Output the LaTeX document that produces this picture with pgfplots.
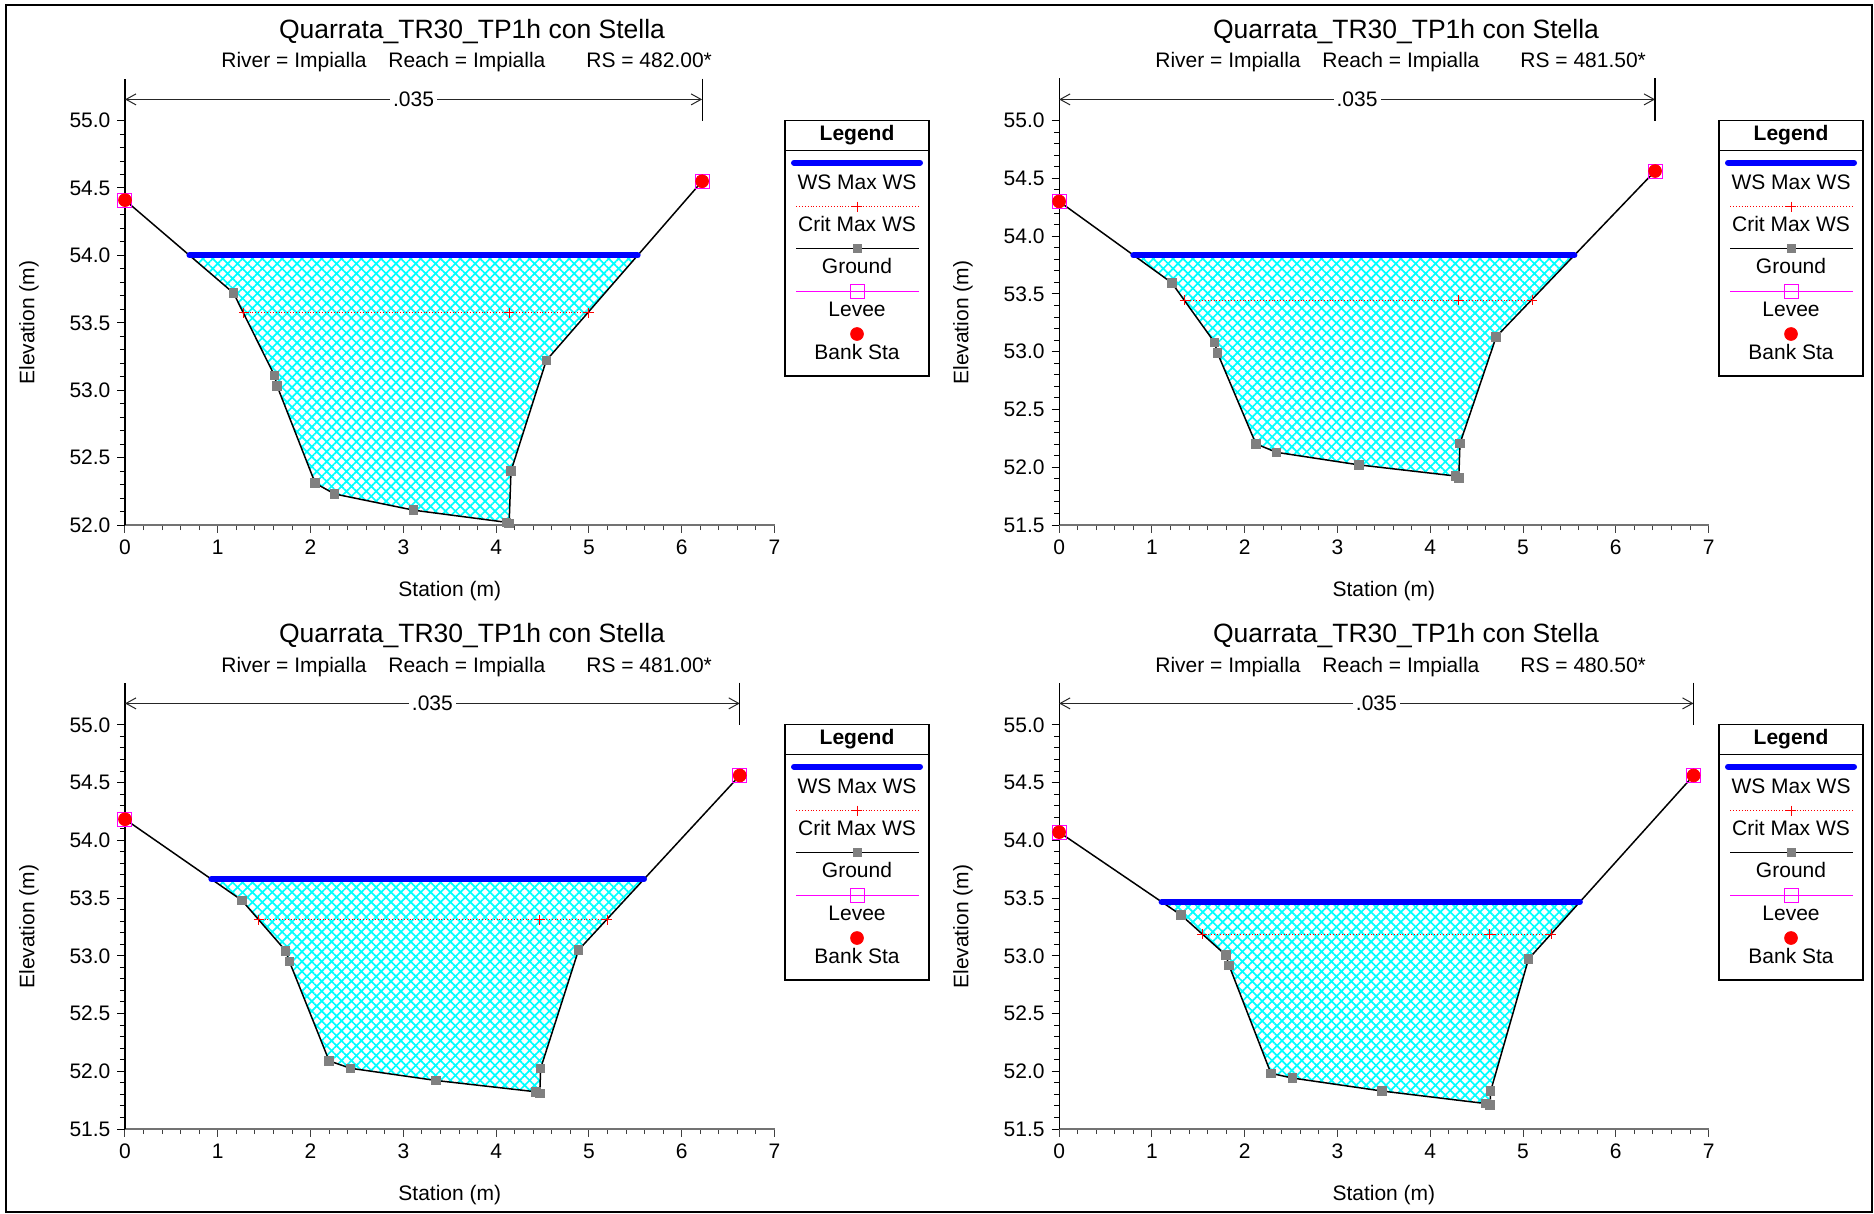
\documentclass[border=0pt]{standalone}
\usepackage{fontspec}
\setmainfont{Liberation Sans}
\usepackage{pgfplots}
\pgfplotsset{compat=1.18}
\usetikzlibrary{patterns.meta,arrows.meta}

\definecolor{wsblue}{RGB}{0,0,255}
\definecolor{gnd}{RGB}{128,128,128}
\definecolor{levee}{RGB}{255,0,255}
\definecolor{crit}{RGB}{255,0,0}
\definecolor{water}{RGB}{0,255,255}

\newcommand{\lfont}{\fontsize{10.5}{12}\selectfont}
\newcommand{\tfont}{\fontsize{13.25}{15}\selectfont}

\pgfplotsset{
  panel/.style={
    scale only axis, width=324.75pt, height=223.25pt,
    anchor=south west, clip=false,
    xmin=0, xmax=7,
    axis x line=bottom, axis y line=left,
    axis line style={-},
    x axis line style={black!55, line width=0.9pt},
    y axis line style={black, line width=0.6pt},
    tick align=outside,
    major tick length=3.75pt, minor tick length=2.5pt,
    xtick style={black!75, line width=0.5pt},
    ytick style={black, line width=0.5pt},
    xtick={0,...,7},
    minor xtick={0,0.2,...,7},
    tick label style={font=\lfont},
    label style={font=\lfont},
    /pgf/number format/assume math mode=true,
    yticklabel style={/pgf/number format/.cd, fixed, fixed zerofill, precision=1},
    xticklabel style={/pgf/number format/.cd, fixed, precision=0},
    xlabel={Station (m)}, ylabel={Elevation (m)},
    xlabel style={at={(axis description cs:0.5,-0.148)}, anchor=center},
    ylabel style={at={(axis description cs:-0.148,0.453)}, anchor=center},
  },
  water/.style={draw=none, pattern={Hatch[angle=45,distance=3.5pt,line width=0.85pt]}, pattern color=water},
  ground/.style={black, line width=0.75pt, mark=square*, mark size=2pt, mark options={fill=gnd, draw=gnd}},
  ws/.style={wsblue, line width=3pt, line cap=round},
  critline/.style={crit, densely dotted, line width=0.45pt},
  critmark/.style={crit, only marks, mark=+, mark size=2.5pt, line width=0.5pt},
  leveemark/.style={levee, only marks, mark=square, mark size=3.5pt, line width=0.5pt},
  bankmark/.style={red, only marks, mark=*, mark size=3.2pt, mark options={fill=red, draw=red}},
}

\newcommand{\nline}[3]{% y, xright, ymax
  \draw[black!85, line width=0.5pt, {Straight Barb[length=5pt,width=5.5pt]}-{Straight Barb[length=5pt,width=5.5pt]}]
    (axis cs:0,#1) -- (axis cs:#2,#1) node[midway, fill=white, inner sep=1.5pt, font=\lfont, text=black] {.035};
  \draw[black, line width=0.6pt] (axis cs:#2,#3) -- (axis cs:#2,55.0);
}

\newcommand{\legendbox}[2]{%
\begin{axis}[at={({#1*0.5pt},{-#2*0.5pt})}, anchor=north west, scale only axis,
  width=72pt, height=127.65pt, xmin=0, xmax=144, ymin=0, ymax=255.3,
  y dir=reverse, hide axis, clip=false]
\draw[line width=0.6pt] (axis cs:0,0) rectangle (axis cs:144,255.3);
\draw[line width=0.6pt] (axis cs:0,30) -- (axis cs:144,30);
\node[font=\lfont\bfseries, anchor=base] at (axis cs:72,20) {Legend};
\addplot[ws] coordinates {(9,42) (135,42)};
\node[font=\lfont, anchor=base] at (axis cs:72,68.3) {WS Max WS};
\addplot[critline] coordinates {(11,86) (133.7,86)};
\addplot[critmark] coordinates {(72,86)};
\node[font=\lfont, anchor=base] at (axis cs:72,111) {Crit Max WS};
\addplot[black, line width=0.75pt] coordinates {(11,128) (133.7,128)};
\addplot[gnd, only marks, mark=square*, mark size=2pt] coordinates {(72,128)};
\node[font=\lfont, anchor=base] at (axis cs:72,152.6) {Ground};
\addplot[levee, line width=0.5pt] coordinates {(11,170.3) (133.7,170.3)};
\addplot[leveemark] coordinates {(72,170.3)};
\node[font=\lfont, anchor=base] at (axis cs:72,195.3) {Levee};
\addplot[bankmark] coordinates {(72,213.3)};
\node[font=\lfont, anchor=base] at (axis cs:72,238.6) {Bank Sta};
\end{axis}}

\begin{document}
\begin{tikzpicture}
\useasboundingbox (0,0) rectangle (937pt,-607pt);

\begin{scope}[x=0.5pt,y=-0.5pt]
\draw[line width=1pt] (6,5) rectangle (1872,1212);
% titles
\node[font=\tfont, anchor=base] at (472,38.3) {Quarrata\_TR30\_TP1h con Stella};
\node[font=\lfont, anchor=base west, inner sep=0pt] at (221,68) {River = Impialla};
\node[font=\lfont, anchor=base west, inner sep=0pt] at (388,68) {Reach = Impialla};
\node[font=\lfont, anchor=base west, inner sep=0pt] at (586,68) {RS = 482.00*};
\node[font=\tfont, anchor=base] at (1406,38.3) {Quarrata\_TR30\_TP1h con Stella};
\node[font=\lfont, anchor=base west, inner sep=0pt] at (1155,68) {River = Impialla};
\node[font=\lfont, anchor=base west, inner sep=0pt] at (1322,68) {Reach = Impialla};
\node[font=\lfont, anchor=base west, inner sep=0pt] at (1520,68) {RS = 481.50*};
\node[font=\tfont, anchor=base] at (472,642) {Quarrata\_TR30\_TP1h con Stella};
\node[font=\lfont, anchor=base west, inner sep=0pt] at (221,672) {River = Impialla};
\node[font=\lfont, anchor=base west, inner sep=0pt] at (388,672) {Reach = Impialla};
\node[font=\lfont, anchor=base west, inner sep=0pt] at (586,672) {RS = 481.00*};
\node[font=\tfont, anchor=base] at (1406,642) {Quarrata\_TR30\_TP1h con Stella};
\node[font=\lfont, anchor=base west, inner sep=0pt] at (1155,672) {River = Impialla};
\node[font=\lfont, anchor=base west, inner sep=0pt] at (1322,672) {Reach = Impialla};
\node[font=\lfont, anchor=base west, inner sep=0pt] at (1520,672) {RS = 480.50*};
\end{scope}

% ---------- Panel 1: RS 482.00
\begin{axis}[panel, at={(62.5pt,-262.5pt)}, ymin=52, ymax=55.312,
  ytick={52,52.5,...,55}, minor ytick={52,52.1,...,55}]
\addplot[water] coordinates {(0.695,54.0) (1.17,53.72) (1.61,53.11) (1.64,53.03) (2.05,52.31) (2.26,52.23) (3.11,52.11) (4.11,52.02) (4.14,52.01) (4.16,52.40) (4.54,53.22) (5.525,54.0) (0.695,54.0)};
\addplot[ground] coordinates {(0,54.41) (1.17,53.72) (1.61,53.11) (1.64,53.03) (2.05,52.31) (2.26,52.23) (3.11,52.11) (4.11,52.02) (4.14,52.01) (4.16,52.40) (4.54,53.22) (6.22,54.55)};
\addplot[ws] coordinates {(0.695,54.0) (5.525,54.0)};
\addplot[critline] coordinates {(1.28,53.575) (5.00,53.575)};
\addplot[critmark] coordinates {(1.28,53.575) (4.14,53.575) (5.00,53.575)};
\addplot[leveemark] coordinates {(0,54.41) (6.22,54.55)};
\addplot[bankmark] coordinates {(0,54.41) (6.22,54.55)};
\nline{55.157}{6.22}{55.312}
\end{axis}

% ---------- Panel 2: RS 481.50
\begin{axis}[panel, at={(529.55pt,-262.5pt)}, ymin=51.5, ymax=55.364,
  ytick={51.5,52,...,55}, minor ytick={51.5,51.6,...,55}]
\addplot[water] coordinates {(0.80,53.834) (1.214,53.596) (1.676,53.079) (1.706,52.99) (2.121,52.202) (2.343,52.129) (3.233,52.02) (4.272,51.924) (4.308,51.907) (4.32,52.205) (4.711,53.129) (5.553,53.834) (0.80,53.834)};
\addplot[ground] coordinates {(0,54.30) (1.214,53.596) (1.676,53.079) (1.706,52.99) (2.121,52.202) (2.343,52.129) (3.233,52.02) (4.272,51.924) (4.308,51.907) (4.32,52.205) (4.711,53.129) (6.423,54.563)};
\addplot[ws] coordinates {(0.80,53.834) (5.553,53.834)};
\addplot[critline] coordinates {(1.352,53.444) (5.101,53.444)};
\addplot[critmark] coordinates {(1.352,53.444) (4.308,53.444) (5.101,53.444)};
\addplot[leveemark] coordinates {(0,54.30) (6.423,54.563)};
\addplot[bankmark] coordinates {(0,54.30) (6.423,54.563)};
\nline{55.183}{6.423}{55.364}
\end{axis}

% ---------- Panel 3: RS 481.00
\begin{axis}[panel, at={(62.5pt,-564.5pt)}, ymin=51.5, ymax=55.367,
  ytick={51.5,52,...,55}, minor ytick={51.5,51.6,...,55}]
\addplot[water] coordinates {(0.931,53.664) (1.259,53.481) (1.732,53.043) (1.771,52.952) (2.2,52.09) (2.43,52.026) (3.354,51.92) (4.432,51.822) (4.47,51.809) (4.48,52.026) (4.888,53.05) (5.594,53.664) (0.931,53.664)};
\addplot[ground] coordinates {(0,54.183) (1.259,53.481) (1.732,53.043) (1.771,52.952) (2.2,52.09) (2.43,52.026) (3.354,51.92) (4.432,51.822) (4.47,51.809) (4.48,52.026) (4.888,53.05) (6.626,54.562)};
\addplot[ws] coordinates {(0.931,53.664) (5.594,53.664)};
\addplot[critline] coordinates {(1.441,53.314) (5.196,53.314)};
\addplot[critmark] coordinates {(1.441,53.314) (4.47,53.314) (5.196,53.314)};
\addplot[leveemark] coordinates {(0,54.183) (6.626,54.562)};
\addplot[bankmark] coordinates {(0,54.183) (6.626,54.562)};
\nline{55.186}{6.626}{55.367}
\end{axis}

% ---------- Panel 4: RS 480.50
\begin{axis}[panel, at={(529.55pt,-564.5pt)}, ymin=51.5, ymax=55.367,
  ytick={51.5,52,...,55}, minor ytick={51.5,51.6,...,55}]
\addplot[water] coordinates {(1.105,53.467) (1.316,53.352) (1.797,53.006) (1.833,52.914) (2.283,51.982) (2.518,51.941) (3.479,51.829) (4.602,51.72) (4.645,51.71) (4.651,51.829) (5.059,52.972) (5.613,53.467) (1.105,53.467)};
\addplot[ground] coordinates {(0,54.071) (1.316,53.352) (1.797,53.006) (1.833,52.914) (2.283,51.982) (2.518,51.941) (3.479,51.829) (4.602,51.72) (4.645,51.71) (4.651,51.829) (5.059,52.972) (6.838,54.562)};
\addplot[ws] coordinates {(1.105,53.467) (5.613,53.467)};
\addplot[critline] coordinates {(1.544,53.186) (5.306,53.186)};
\addplot[critmark] coordinates {(1.544,53.186) (4.639,53.186) (5.306,53.186)};
\addplot[leveemark] coordinates {(0,54.071) (6.838,54.562)};
\addplot[bankmark] coordinates {(0,54.071) (6.838,54.562)};
\nline{55.186}{6.838}{55.367}
\end{axis}

% ---------- Legends
\legendbox{785}{120.7}
\legendbox{1719}{120.7}
\legendbox{785}{724.7}
\legendbox{1719}{724.7}
\end{tikzpicture}
\end{document}
